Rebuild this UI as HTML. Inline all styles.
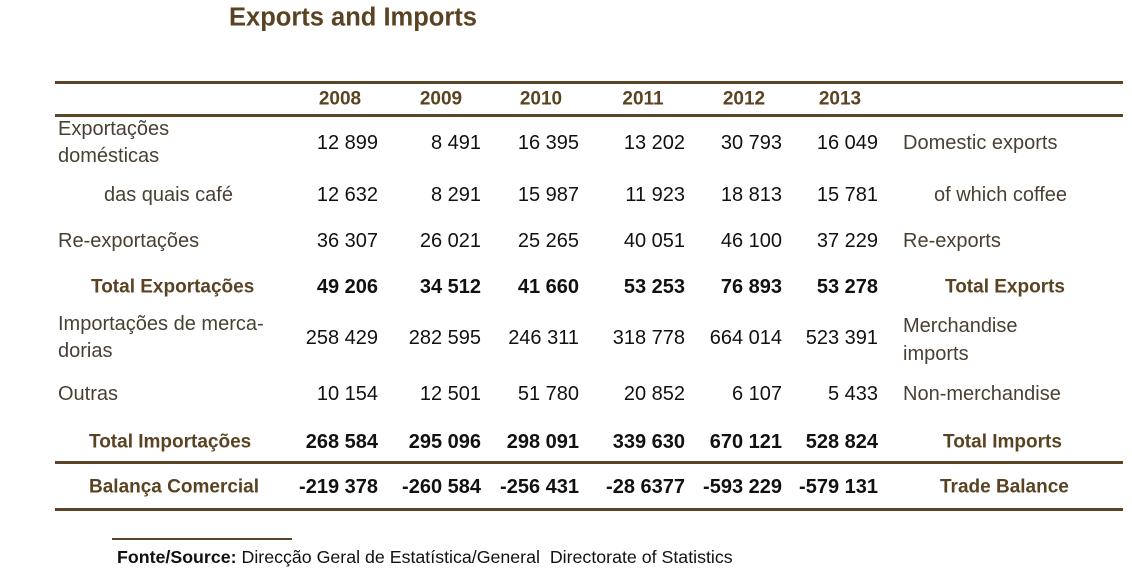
<!DOCTYPE html>
<html><head><meta charset="utf-8"><style>
body{margin:0;width:1132px;height:579px;background:#fff;position:relative;overflow:hidden;font-family:"Liberation Sans",sans-serif;}
.t{position:absolute;white-space:nowrap;line-height:1;transform:translateY(-50%);font-size:20px;}
.lab{color:#4a3f33;}
.b{font-weight:bold;}
.bl{color:#5a4322;font-weight:bold;font-size:19px;}
.num{color:#111;text-align:right;}
.rule{position:absolute;left:55px;width:1068px;height:3px;background:#5a4527;}
</style></head><body>
<div class="t bl" style="left:229px;top:18px;font-size:25.5px;">Exports and Imports</div>
<div class="rule" style="top:81px"></div>
<div class="rule" style="top:114px"></div>
<div class="rule" style="top:461px"></div>
<div class="rule" style="top:508px"></div>
<div style="position:absolute;left:112px;top:538px;width:180px;height:2px;background:#5a4527"></div>
<div class="t" style="left:117px;top:558px;font-size:17.8px;color:#111"><b>Fonte/Source:</b> Direcção Geral de Estatística/General&nbsp; Directorate of Statistics</div>
<div id="tbl"></div>
<script>
const years=["2008","2009","2010","2011","2012","2013"];
const rowsPt=["Exportações<br>domésticas","das quais café","Re-exportações","Total Exportações","Importações de merca-<br>dorias","Outras","Total Importações","Balança Comercial"];
const rowsEn=["Domestic exports","of which coffee","Re-exports","Total Exports","Merchandise<br>imports","Non-merchandise","Total Imports","Trade Balance"];
const r0=["12 899","8 491","16 395","13 202","30 793","16 049"];
const r1=["12 632","8 291","15 987","11 923","18 813","15 781"];
const r2=["36 307","26 021","25 265","40 051","46 100","37 229"];
const r3=["49 206","34 512","41 660","53 253","76 893","53 278"];
const r4=["258 429","282 595","246 311","318 778","664 014","523 391"];
const r5=["10 154","12 501","51 780","20 852","6 107","5 433"];
const r6=["268 584","295 096","298 091","339 630","670 121","528 824"];
const r7=["-219 378","-260 584","-256 431","-28 6377","-593 229","-579 131"];
const vals=[r0,r1,r2,r3,r4,r5,r6,r7];
const bold=[false,false,false,true,false,false,true,true];
const rowY=[143,195,241,287,338,394,442,487];
const ptX=[58,104,58,91,58,58,89,89];
const enX=[903,934,903,945,903,903,943,940];
const colR=[378,481,579,685,782,878];
const colC=[340,441,541,643,744,840];
const T=document.getElementById('tbl');
function add(html,cls,style,name){const d=document.createElement('div');d.className='t '+cls;d.innerHTML=html;d.style.cssText=style;


T.appendChild(d);return d;}
years.forEach((y,i)=>add(y,'bl','left:'+colC[i]+'px;top:99px;transform:translate(-50%,-50%)','year-header-'+y));
rowsPt.forEach((p,r)=>{
  const two=p.includes('<br>');
  add(p,bold[r]?'bl':'lab','left:'+ptX[r]+'px;top:'+rowY[r]+'px;'+(two?'line-height:27px;':''),'row-label-pt-'+r);
  const e=rowsEn[r];
  add(e,bold[r]?'bl':'lab','left:'+enX[r]+'px;top:'+(rowY[r]+(r==4?2:0))+'px;'+(e.includes('<br>')?'line-height:28px;':''),'row-label-en-'+r);
  vals[r].forEach((v,c)=>add(v,'num'+(bold[r]?' b':''),'right:'+(1132-colR[c])+'px;top:'+rowY[r]+'px','cell-'+r+'-'+years[c]));
});
</script>
</body></html>
